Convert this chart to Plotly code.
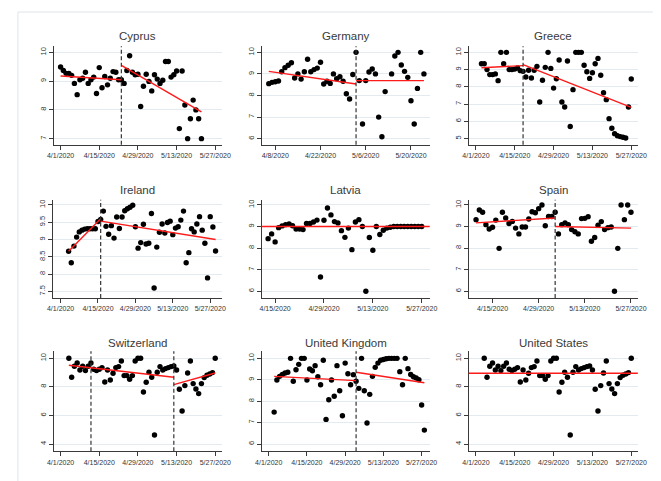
import plotly.graph_objects as go
import pandas as pd

W, H = 661, 481

# ---------------- data ----------------
cyprus_start = "2020-04-01"
cyprus_vals = [9.49, 9.37, 9.27, 9.27, 9.2, 8.92, 8.53, 9.05, 9.1, 9.31,
               8.92, 9.05, 9.14, 8.57, 9.47, 8.77, 9.16, 8.87, 9.1, 9.33,
               9.31, 9.05, 9.05, 8.92, 9.37, 9.88, 9.31, 9.22, 9.24, 8.12,
               8.82, 9.24, 8.99, 8.66, 9.22, 9.07, 8.92, 9.03, 9.68, 9.68,
               9.14, 9.22, 9.35, 7.35, 9.35, 8.17, 7.0, 7.69, 8.34, 8.0,
               7.69, 7.0]
cyprus_breaks = ["2020-04-23"]
cyprus_fits = [("2020-04-01", 9.18, "2020-04-23", 9.05),
               ("2020-04-23", 9.55, "2020-05-22", 7.93)]

germany_start = "2020-04-06"
germany_vals = [8.55, 8.61, 8.64, 8.67, 9.1, 9.29, 9.4, 9.52, 8.81, 9.0,
                8.76, 9.1, 9.68, 9.1, 9.2, 9.27, 9.54, 8.53, 8.66, 8.56,
                9.0, 8.78, 8.87, 8.66, 8.08, 7.84, 8.97, 10.0, 8.69, 6.68,
                8.69, 9.09, 9.23, 9.0, 7.0, 6.09, 8.18, None, 9.0, 9.83,
                10.0, 9.41, 9.12, 8.84, 7.76, 6.68, 8.33, 10.0, 9.0]
germany_breaks = ["2020-05-03"]
germany_fits = [("2020-04-06", 9.12, "2020-05-03", 8.53),
                ("2020-05-03", 8.69, "2020-05-24", 8.69)]

greece_start = "2020-04-03"
greece_vals = [9.34, 9.34, 9.0, 8.71, 8.71, 8.75, 8.36, 10.0, 9.34, 10.0,
               9.0, 9.0, 9.03, 9.09, 8.94, 8.9, 8.57, 8.96, 8.51, 8.96,
               9.19, 7.12, 8.38, 9.13, 10.0, 9.07, 7.93, 8.47, 9.56, 7.12,
               6.83, 9.5, 5.7, 7.84, 10.0, 10.0, 10.0, 9.25, 8.88, 8.49,
               8.82, 9.34, 9.65, 8.67, 7.66, 7.26, 6.16, 5.6, 5.29, 5.17,
               5.12, 5.08, 5.04, 6.83, 8.46]
greece_breaks = ["2020-04-18"]
greece_fits = [("2020-04-03", 9.11, "2020-04-18", 9.23),
               ("2020-04-18", 9.29, "2020-05-27", 6.81)]

ireland_start = "2020-04-04"
ireland_vals = [8.66, 8.33, 8.81, 9.07, 9.22, 9.27, 9.3, 9.31, 9.31, 9.31,
                9.31, 9.52, 9.58, 9.82, 9.38, 9.15, 9.4, 9.04, 9.65, 9.32,
                9.65, 9.83, 9.89, 9.93, 9.99, 9.37, 8.75, 8.91, 9.44, 8.87,
                8.89, 9.75, 7.6, 8.78, 9.21, 9.45, 9.19, 9.49, 9.53, 9.14,
                9.33, 9.37, 9.56, 9.82, 8.33, 8.62, 9.31, 9.22, 9.45, 9.66,
                9.27, 8.89, 7.89, 9.66, 9.36, 8.67]
ireland_breaks = ["2020-04-16"]
ireland_fits = [("2020-04-04", 8.66, "2020-04-16", 9.6),
                ("2020-04-16", 9.53, "2020-05-29", 9.0)]

latvia_start = "2020-04-13"
latvia_vals = [8.44, 8.66, 8.29, 8.95, 9.03, 9.09, 9.12, 9.04, 8.89, 8.89,
               8.86, 9.14, 9.14, 9.21, 9.3, 6.66, 9.29, 9.86, 9.54, 9.23,
               9.17, 8.81, 8.5, 8.93, 7.93, 9.21, 9.32, 9.0, 6.0, 8.49,
               7.9, 9.0, 8.63, 8.83, 8.93, 8.97, 9.0, 9.0, 9.0, 9.0,
               9.0, 9.0, 9.0, 9.0, 9.0]
latvia_breaks = []
latvia_level = 9.0

spain_start = "2020-04-10"
spain_vals = [9.32, 9.77, 9.66, 9.09, 8.89, 8.97, 9.3, 7.99, 9.66, 9.4,
              9.14, 9.24, 8.93, 8.66, 8.98, 8.98, 9.35, 9.69, 9.64, 9.83,
              10.0, 9.04, 9.47, 9.47, 9.66, 8.66, 9.09, 9.17, 9.09, 8.86,
              8.76, 8.66, 9.37, 9.38, 9.46, 8.32, 8.49, 9.06, 9.23, 8.86,
              8.95, 8.98, 6.0, 7.99, 10.0, 9.32, 10.0, 9.66]
spain_breaks = ["2020-05-04"]
spain_fits = [("2020-04-10", 9.17, "2020-05-04", 9.4),
              ("2020-05-04", 9.0, "2020-05-27", 8.93)]

switzerland_start = "2020-04-04"
switzerland_vals = [10.0, 8.67, 9.44, 9.67, 9.18, 9.44, 9.14, 9.44, 9.67, 9.23,
                    9.14, 9.23, 9.35, 8.34, 9.18, 8.48, 8.95, 9.35, 9.42, 9.81,
                    8.79, 8.79, 8.53, 8.79, 9.81, 10.0, 10.0, 7.64, 8.32, 9.02,
                    8.67, 4.63, 9.02, 9.42, 9.18, 9.28, 9.35, 9.42, 9.46, 9.18,
                    7.83, 6.31, 8.09, 8.97, 9.81, 8.23, 7.85, 7.53, 8.23, 8.65,
                    8.81, 8.9, 9.0, 10.0]
switzerland_breaks = ["2020-04-12", "2020-05-12"]
switzerland_fits = [("2020-04-04", 9.51, "2020-05-12", 8.67),
                    ("2020-05-12", 8.16, "2020-05-27", 8.97)]

uk_start = "2020-04-03"
uk_vals = [7.49, 8.99, 9.16, 9.25, 9.32, 9.35, 10.0, 8.93, 9.47, 9.72,
           10.0, 10.0, 8.99, 9.5, 9.42, 9.66, 9.14, 8.77, 9.91, 7.15,
           8.07, 8.99, 8.23, 9.66, 8.49, 7.32, 9.78, 9.28, 8.77, 9.24,
           8.93, 8.6, 10.0, 8.49, 6.98, 8.32, 9.16, 9.58, 9.78, 9.91,
           9.95, 9.98, 10.0, 10.0, 10.0, 10.0, 9.38, 8.77, 10.0, 9.52,
           9.25, 9.14, 9.08, 9.0, 7.82, 6.65]
uk_breaks = ["2020-05-03"]
uk_fits = [("2020-04-03", 9.16, "2020-05-03", 8.96),
           ("2020-05-03", 9.35, "2020-05-28", 8.86)]

us_start = "2020-04-04"
us_vals = [10.0, 8.67, 9.44, 9.67, 9.18, 9.44, 9.14, 9.44, 9.67, 9.23,
           9.14, 9.23, 9.35, 8.34, 9.18, 8.48, 8.95, 9.35, 9.42, 9.81,
           8.79, 8.79, 8.53, 8.79, 9.81, 10.0, 10.0, 7.64, 8.32, 9.02,
           8.67, 4.63, 9.02, 9.42, 9.18, 9.28, 9.35, 9.42, 9.46, 9.18,
           7.83, 6.31, 8.09, 8.97, 9.81, 8.23, 7.85, 7.53, 8.23, 8.65,
           8.81, 8.9, 9.0, 10.0]
us_breaks = []
us_level = 8.95

# tick values / labels
ticks_apr1 = ["2020-04-01", "2020-04-15", "2020-04-29", "2020-05-13", "2020-05-27"]
labels_apr1 = ["4/1/2020", "4/15/2020", "4/29/2020", "5/13/2020", "5/27/2020"]
ticks_apr8 = ["2020-04-08", "2020-04-22", "2020-05-06", "2020-05-20"]
labels_apr8 = ["4/8/2020", "4/22/2020", "5/6/2020", "5/20/2020"]
ticks_apr15 = ["2020-04-15", "2020-04-29", "2020-05-13", "2020-05-27"]
labels_apr15 = ["4/15/2020", "4/29/2020", "5/13/2020", "5/27/2020"]

y_5_10 = [5, 6, 7, 8, 9, 10]
y_6_10 = [6, 7, 8, 9, 10]
y_7_10 = [7, 8, 9, 10]
y_4_10 = [4, 6, 8, 10]
y_ireland = [7.5, 8, 8.5, 9, 9.5, 10]
y_ireland_labels = ["7.5", "8", "8.5", "9", "9.5", "10"]

# ---------------- layout of panels (pixel boxes) ----------------
panels = [
    dict(name="Cyprus", start=cyprus_start, vals=cyprus_vals, breaks=cyprus_breaks,
         fits=cyprus_fits, level=None, xt=ticks_apr1, xl=labels_apr1, yt=y_7_10,
         box=(40, 211.7, 38.3, 136.7), xr=["2020-03-29 15:00", "2020-05-29 07:00"],
         yr=[6.79, 10.21], ty=28),
    dict(name="Germany", start=germany_start, vals=germany_vals, breaks=germany_breaks,
         fits=germany_fits, level=None, xt=ticks_apr8, xl=labels_apr8, yt=y_6_10,
         box=(252.7, 425, 38.3, 136.7), xr=["2020-04-03 18:30", "2020-05-25 19:00"],
         yr=[5.72, 10.28], ty=28),
    dict(name="Greece", start=greece_start, vals=greece_vals, breaks=greece_breaks,
         fits=greece_fits, level=None, xt=ticks_apr1, xl=labels_apr1, yt=y_5_10,
         box=(465, 638.3, 38.3, 136.7), xr=["2020-03-29 10:00", "2020-05-29 09:00"],
         yr=[4.65, 10.35], ty=28),
    dict(name="Ireland", start=ireland_start, vals=ireland_vals, breaks=ireland_breaks,
         fits=ireland_fits, level=None, xt=ticks_apr1, xl=labels_apr1, yt=y_ireland,
         ytl=y_ireland_labels,
         box=(39.3, 211.7, 191.7, 290), xr=["2020-03-29 07:00", "2020-05-31 06:00"],
         yr=[7.31, 10.15], ty=181.7),
    dict(name="Latvia", start=latvia_start, vals=latvia_vals, breaks=latvia_breaks,
         fits=[], level=latvia_level, xt=ticks_apr15, xl=labels_apr15, yt=y_6_10,
         box=(252.7, 425, 191.7, 290), xr=["2020-04-11 03:00", "2020-05-29 07:00"],
         yr=[5.69, 10.245], ty=181.7),
    dict(name="Spain", start=spain_start, vals=spain_vals, breaks=spain_breaks,
         fits=spain_fits, level=None, xt=ticks_apr15, xl=labels_apr15, yt=y_6_10,
         box=(465, 638.3, 191.7, 290), xr=["2020-04-07 19:00", "2020-05-29 02:00"],
         yr=[5.69, 10.245], ty=181.7),
    dict(name="Switzerland", start=switzerland_start, vals=switzerland_vals,
         breaks=switzerland_breaks, fits=switzerland_fits, level=None, xt=ticks_apr1,
         xl=labels_apr1, yt=y_4_10,
         box=(40, 211.7, 343.3, 443.3), xr=["2020-03-29 15:00", "2020-05-29 07:00"],
         yr=[3.49, 10.49], ty=335),
    dict(name="United Kingdom", start=uk_start, vals=uk_vals, breaks=uk_breaks,
         fits=uk_fits, level=None, xt=ticks_apr1, xl=labels_apr1, yt=y_6_10,
         box=(252.7, 425, 343.3, 443.3), xr=["2020-03-29 09:30", "2020-05-29 23:00"],
         yr=[5.66, 10.33], ty=335),
    dict(name="United States", start=us_start, vals=us_vals, breaks=us_breaks,
         fits=[], level=us_level, xt=ticks_apr1, xl=labels_apr1, yt=y_4_10,
         box=(465, 638.3, 343.3, 443.3), xr=["2020-03-29 10:00", "2020-05-29 09:00"],
         yr=[3.49, 10.49], ty=335),
]

AX = "#3a3a3a"
GRID = "#e4ebf0"
FONT = "Liberation Sans, Arial, sans-serif"
RED = "#ff1a1a"

fig = go.Figure()
layout = dict(width=W, height=H, margin=dict(l=0, r=0, t=0, b=0),
              paper_bgcolor="white", plot_bgcolor="white", showlegend=False,
              font=dict(family=FONT, color="#222"))
annotations = []
shapes = []

for i, p in enumerate(panels, start=1):
    sfx = "" if i == 1 else str(i)
    xa, ya = "x" + sfx, "y" + sfx
    x0, x1, yt, yb = p["box"]
    dates = pd.date_range(p["start"], periods=len(p["vals"]), freq="D")

    fig.add_trace(go.Scatter(x=dates, y=p["vals"], mode="markers",
                             marker=dict(color="black", size=5.4, line=dict(width=0)),
                             xaxis=xa, yaxis=ya, hoverinfo="skip"))
    for (d0, v0, d1, v1) in p["fits"]:
        fig.add_trace(go.Scatter(x=[d0, d1], y=[v0, v1], mode="lines",
                                 line=dict(color=RED, width=1.4),
                                 xaxis=xa, yaxis=ya, hoverinfo="skip"))
    for b in p["breaks"]:
        shapes.append(dict(type="line", xref=xa, yref=ya + " domain", x0=b, x1=b,
                           y0=0, y1=1, layer="above",
                           line=dict(color="#333333", width=1.2, dash="4px,2.5px")))
    if p["level"] is not None:
        shapes.append(dict(type="line", xref=xa + " domain", yref=ya, x0=0, x1=1,
                           y0=p["level"], y1=p["level"], layer="above",
                           line=dict(color=RED, width=1.4)))

    layout["xaxis" + sfx] = dict(
        domain=[x0 / W, x1 / W], range=p["xr"], type="date", anchor=ya,
        tickmode="array", tickvals=p["xt"], ticktext=p["xl"],
        ticks="outside", ticklen=4, tickcolor=AX, tickwidth=1,
        showline=True, linecolor=AX, linewidth=1, showgrid=False, zeroline=False,
        tickfont=dict(size=7, color="#333", family=FONT), fixedrange=True)
    layout["yaxis" + sfx] = dict(
        domain=[1 - yb / H, 1 - yt / H], range=p["yr"], anchor=xa,
        tickmode="array", tickvals=p["yt"],
        ticktext=p.get("ytl", [str(v) for v in p["yt"]]),
        tickangle=-90, ticks="outside", ticklen=4, tickcolor=AX, tickwidth=1,
        showline=True, linecolor=AX, linewidth=1, showgrid=True, gridcolor=GRID,
        gridwidth=1, zeroline=False,
        tickfont=dict(size=7.5, color="#333", family=FONT), fixedrange=True)

    annotations.append(dict(text=p["name"], xref="paper", yref="paper",
                            x=((x0 + x1) / 2) / W, y=1 - p["ty"] / H,
                            xanchor="center", yanchor="middle", showarrow=False,
                            font=dict(size=11.5, color="#3a3a3a", family=FONT,
                                      weight="normal")))

# outer frame
shapes.append(dict(type="rect", xref="paper", yref="paper",
                   x0=3 / W, x1=658 / W, y0=1 - 476 / H, y1=1 - 4 / H,
                   line=dict(color="#dfe5ea", width=1), fillcolor="rgba(0,0,0,0)",
                   layer="below"))

layout["annotations"] = annotations
layout["shapes"] = shapes
fig.update_layout(**layout)
fig.write_html("out.html")
